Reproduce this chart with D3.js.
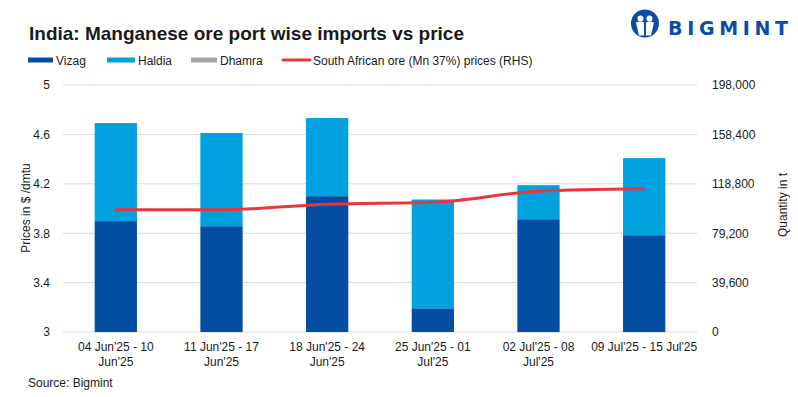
<!DOCTYPE html>
<html>
<head>
<meta charset="utf-8">
<script src="https://cdn.jsdelivr.net/npm/d3@7"></script>
<style>
  body { margin: 0; background: #fff; }
  text { font-family: "Liberation Sans", Arial, sans-serif; fill: #1a1a1a; }
</style>
</head>
<body>
<div id="chart"></div>
<script>
// Data
var weeks = ["W1", "W2", "W3", "W4", "W5", "W6"];
var weekLabels = [
  ["04 Jun'25 - 10", "Jun'25"],
  ["11 Jun'25 - 17", "Jun'25"],
  ["18 Jun'25 - 24", "Jun'25"],
  ["25 Jun'25 - 01", "Jul'25"],
  ["02 Jul'25 - 08", "Jul'25"],
  ["09 Jul'25 - 15 Jul'25"]
];
var vizag  = [88900, 84800, 108900, 19000, 90400, 77600];
var haldia = [78600, 74700, 62600, 87200, 27300, 61800];
var dhamra = [0, 0, 0, 0, 0, 0];
var price  = [3.99, 3.99, 4.035, 4.05, 4.14, 4.16];
var priceTicks = [3, 3.4, 3.8, 4.2, 4.6, 5];
var qtyTicks = [0, 39600, 79200, 118800, 158400, 198000];

var seriesNames = ["Vizag", "Haldia", "Dhamra"];
var colors = { Vizag: "#034ea2", Haldia: "#00a1df", Dhamra: "#a5a5a5" };
var lineColor = "#e8383b";

var visualize = function() {
  var W = 798, H = 397;
  var margin = { top: 85, right: 101, bottom: 65, left: 63 },
      width = W - margin.left - margin.right,
      height = H - margin.top - margin.bottom;

  var root = d3.select("#chart").append("svg")
    .attr("width", W).attr("height", H);

  // Title
  root.append("text")
    .attr("x", 29).attr("y", 40)
    .style("font-size", "19px").style("font-weight", "bold")
    .text("India: Manganese ore port wise imports vs price");

  // Logo
  var logo = root.append("g").attr("transform", "translate(645,23.5)");
  logo.append("circle").attr("r", 14).attr("fill", "#0a4da2");
  logo.append("circle").attr("cx", -4.5).attr("cy", -5).attr("r", 3).attr("fill", "#fff");
  logo.append("circle").attr("cx", 4.5).attr("cy", -5).attr("r", 3).attr("fill", "#fff");
  logo.append("path").attr("d", "M-9,-1 Q-4.5,-3 -1,-1 L-1,12 L-6,12 Z").attr("fill", "#fff");
  logo.append("path").attr("d", "M9,-1 Q4.5,-3 1,-1 L1,12 L6,12 Z").attr("fill", "#fff");
  root.append("text")
    .attr("x", 668).attr("y", 35)
    .attr("textLength", 120).attr("lengthAdjust", "spacing")
    .style("font-family", "DejaVu Sans, sans-serif")
    .style("font-size", "19px").style("font-weight", "bold")
    .style("fill", "#0a4da2")
    .text("BIGMINT");

  // Legend
  var legendItems = [
    { name: "Vizag", x: 28, w: 25, type: "rect", color: colors.Vizag },
    { name: "Haldia", x: 107, w: 28, type: "rect", color: colors.Haldia },
    { name: "Dhamra", x: 191, w: 26, type: "rect", color: colors.Dhamra },
    { name: "South African ore (Mn 37%) prices (RHS)", x: 283, w: 27, type: "line", color: lineColor }
  ];
  var lg = root.append("g").selectAll("g").data(legendItems).enter().append("g");
  lg.filter(function(d) { return d.type == "rect"; }).append("rect")
    .attr("x", function(d) { return d.x; }).attr("y", 57.5)
    .attr("width", function(d) { return d.w; }).attr("height", 5)
    .attr("fill", function(d) { return d.color; });
  lg.filter(function(d) { return d.type == "line"; }).append("line")
    .attr("x1", function(d) { return d.x; }).attr("x2", function(d) { return d.x + d.w; })
    .attr("y1", 60).attr("y2", 60)
    .attr("stroke", function(d) { return d.color; }).attr("stroke-width", 3)
    .attr("stroke-linecap", "round");
  lg.append("text")
    .attr("x", function(d) { return d.x + d.w + 3; }).attr("y", 64.5)
    .style("font-size", "12px")
    .text(function(d) { return d.name; });

  var svg = root.append("g")
    .attr("transform", "translate(" + margin.left + "," + margin.top + ")");

  // Scales
  var x = d3.scaleBand().domain(weeks).range([0, width]).paddingInner(0.6).paddingOuter(0.3);
  var yPrice = d3.scaleLinear().domain([3, 5]).range([height, 0]);
  var yQty = d3.scaleLinear().domain([0, 198000]).range([height, 0]);

  // Gridlines
  svg.append("g").selectAll("line").data(priceTicks).enter().append("line")
    .attr("x1", 0).attr("x2", width)
    .attr("y1", function(d) { return yPrice(d); }).attr("y2", function(d) { return yPrice(d); })
    .attr("stroke", "#d9d9d9").attr("stroke-width", 1);

  // Axes
  var leftAxis = svg.append("g").attr("transform", "translate(-10,0)")
    .call(d3.axisLeft(yPrice).tickValues(priceTicks).tickSize(0).tickFormat(d3.format("")));
  var rightAxis = svg.append("g").attr("transform", "translate(" + (width + 12) + ",0)")
    .call(d3.axisRight(yQty).tickValues(qtyTicks).tickSize(0).tickFormat(d3.format(",")));
  [leftAxis, rightAxis].forEach(function(a) {
    a.select(".domain").remove();
    a.selectAll("text").style("font-size", "12px").style("fill", "#1a1a1a")
      .style("font-family", "Liberation Sans, Arial, sans-serif");
  });

  // Stacked bars
  var table = weeks.map(function(w, i) {
    return { week: w, Vizag: vizag[i], Haldia: haldia[i], Dhamra: dhamra[i] };
  });
  var stacked = d3.stack().keys(seriesNames)(table);
  svg.append("g").selectAll("g").data(stacked).enter().append("g")
    .attr("fill", function(d) { return colors[d.key]; })
    .selectAll("rect").data(function(d) { return d; }).enter().append("rect")
    .attr("x", function(d) { return x(d.data.week); })
    .attr("width", x.bandwidth())
    .attr("y", function(d) { return yQty(d[1]); })
    .attr("height", function(d) { return yQty(d[0]) - yQty(d[1]); });

  // Price line
  var line = d3.line()
    .x(function(d, i) { return x(weeks[i]) + x.bandwidth() / 2; })
    .y(function(d) { return yPrice(d); })
    .curve(d3.curveMonotoneX);
  svg.append("path").datum(price)
    .attr("d", line)
    .attr("fill", "none").attr("stroke", lineColor).attr("stroke-width", 3)
    .attr("stroke-linecap", "round");

  // X labels
  var xl = svg.append("g").selectAll("text").data(weeks).enter().append("text")
    .attr("text-anchor", "middle")
    .attr("x", function(d) { return x(d) + x.bandwidth() / 2; })
    .attr("y", height + 19)
    .style("font-size", "12px");
  xl.selectAll("tspan").data(function(d, i) { return weekLabels[i]; }).enter().append("tspan")
    .attr("x", function() { return d3.select(this.parentNode).attr("x"); })
    .attr("dy", function(d, i) { return i == 0 ? 0 : 15; })
    .text(function(d) { return d; });

  // Axis titles
  root.append("text")
    .attr("transform", "translate(30,208) rotate(-90)")
    .attr("text-anchor", "middle").style("font-size", "12px")
    .text("Prices in $ /dmtu");
  root.append("text")
    .attr("transform", "translate(787,205) rotate(-90)")
    .attr("text-anchor", "middle").style("font-size", "12px")
    .text("Quantity in t");

  // Source
  root.append("text")
    .attr("x", 28).attr("y", 387)
    .style("font-size", "12px")
    .text("Source: Bigmint");
};

visualize();
</script>
</body>
</html>
